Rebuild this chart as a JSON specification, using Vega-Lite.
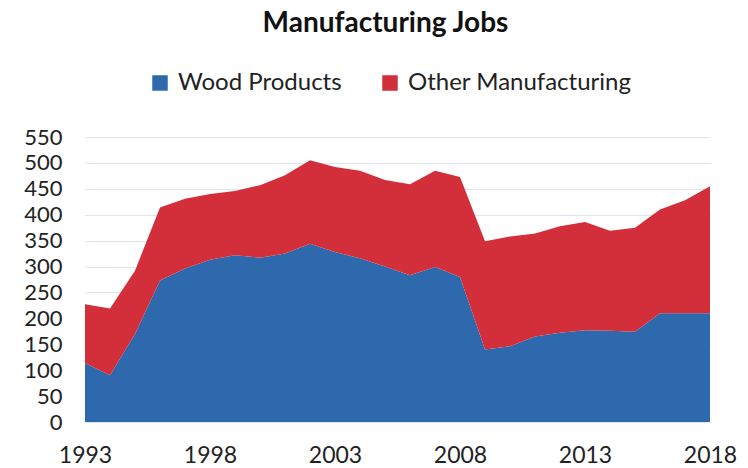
{
  "$schema": "https://vega.github.io/schema/vega-lite/v6.json",
  "autosize": {"type": "none"},
  "padding": {"left": 85, "top": 137, "right": 38, "bottom": 46},
  "width": 625,
  "height": 285,
  "background": "white",
  "title": {
    "text": "Manufacturing Jobs",
    "font": "Lato",
    "fontSize": 28,
    "fontWeight": "bold",
    "color": "#111111",
    "anchor": "middle",
    "offset": 33,
    "dx": -12
  },
  "config": {
    "view": {"stroke": null},
    "font": "Lato"
  },
  "data": {
    "values": [
      {"year": 1993, "series": "Wood Products", "jobs": 114},
      {"year": 1994, "series": "Wood Products", "jobs": 90},
      {"year": 1995, "series": "Wood Products", "jobs": 170},
      {"year": 1996, "series": "Wood Products", "jobs": 273},
      {"year": 1997, "series": "Wood Products", "jobs": 296},
      {"year": 1998, "series": "Wood Products", "jobs": 313},
      {"year": 1999, "series": "Wood Products", "jobs": 322},
      {"year": 2000, "series": "Wood Products", "jobs": 317},
      {"year": 2001, "series": "Wood Products", "jobs": 325},
      {"year": 2002, "series": "Wood Products", "jobs": 344},
      {"year": 2003, "series": "Wood Products", "jobs": 328},
      {"year": 2004, "series": "Wood Products", "jobs": 316},
      {"year": 2005, "series": "Wood Products", "jobs": 300},
      {"year": 2006, "series": "Wood Products", "jobs": 283},
      {"year": 2007, "series": "Wood Products", "jobs": 299},
      {"year": 2008, "series": "Wood Products", "jobs": 280},
      {"year": 2009, "series": "Wood Products", "jobs": 140},
      {"year": 2010, "series": "Wood Products", "jobs": 146},
      {"year": 2011, "series": "Wood Products", "jobs": 165},
      {"year": 2012, "series": "Wood Products", "jobs": 172},
      {"year": 2013, "series": "Wood Products", "jobs": 177},
      {"year": 2014, "series": "Wood Products", "jobs": 176},
      {"year": 2015, "series": "Wood Products", "jobs": 174},
      {"year": 2016, "series": "Wood Products", "jobs": 210},
      {"year": 2017, "series": "Wood Products", "jobs": 210},
      {"year": 2018, "series": "Wood Products", "jobs": 210},
      {"year": 1993, "series": "Other Manufacturing", "jobs": 113},
      {"year": 1994, "series": "Other Manufacturing", "jobs": 129},
      {"year": 1995, "series": "Other Manufacturing", "jobs": 122},
      {"year": 1996, "series": "Other Manufacturing", "jobs": 141},
      {"year": 1997, "series": "Other Manufacturing", "jobs": 135},
      {"year": 1998, "series": "Other Manufacturing", "jobs": 127},
      {"year": 1999, "series": "Other Manufacturing", "jobs": 124},
      {"year": 2000, "series": "Other Manufacturing", "jobs": 140},
      {"year": 2001, "series": "Other Manufacturing", "jobs": 151},
      {"year": 2002, "series": "Other Manufacturing", "jobs": 161},
      {"year": 2003, "series": "Other Manufacturing", "jobs": 164},
      {"year": 2004, "series": "Other Manufacturing", "jobs": 169},
      {"year": 2005, "series": "Other Manufacturing", "jobs": 167},
      {"year": 2006, "series": "Other Manufacturing", "jobs": 176},
      {"year": 2007, "series": "Other Manufacturing", "jobs": 186},
      {"year": 2008, "series": "Other Manufacturing", "jobs": 193},
      {"year": 2009, "series": "Other Manufacturing", "jobs": 209},
      {"year": 2010, "series": "Other Manufacturing", "jobs": 212},
      {"year": 2011, "series": "Other Manufacturing", "jobs": 199},
      {"year": 2012, "series": "Other Manufacturing", "jobs": 206},
      {"year": 2013, "series": "Other Manufacturing", "jobs": 209},
      {"year": 2014, "series": "Other Manufacturing", "jobs": 193},
      {"year": 2015, "series": "Other Manufacturing", "jobs": 201},
      {"year": 2016, "series": "Other Manufacturing", "jobs": 200},
      {"year": 2017, "series": "Other Manufacturing", "jobs": 218},
      {"year": 2018, "series": "Other Manufacturing", "jobs": 245}
    ]
  },
  "mark": {"type": "area", "interpolate": "linear"},
  "encoding": {
    "x": {
      "field": "year",
      "type": "quantitative",
      "scale": {"domain": [1993, 2018], "nice": false, "zero": false},
      "axis": {
        "values": [1993, 1998, 2003, 2008, 2013, 2018],
        "format": "d",
        "title": null,
        "grid": false,
        "domain": false,
        "ticks": false,
        "labelFontSize": 23,
        "labelColor": "#222222",
        "labelPadding": 22,
        "labelFlush": false
      }
    },
    "y": {
      "field": "jobs",
      "type": "quantitative",
      "stack": "zero",
      "scale": {"domain": [0, 550], "nice": false},
      "axis": {
        "values": [0, 50, 100, 150, 200, 250, 300, 350, 400, 450, 500, 550],
        "title": null,
        "domain": false,
        "ticks": false,
        "grid": true,
        "gridColor": "#dde4f0",
        "gridWidth": 1,
        "labelFontSize": 22,
        "labelColor": "#222222",
        "labelPadding": 23
      }
    },
    "color": {
      "field": "series",
      "type": "nominal",
      "scale": {
        "domain": ["Wood Products", "Other Manufacturing"],
        "range": ["#2f69ad", "#d22f3a"]
      },
      "legend": {
        "title": null,
        "orient": "none",
        "direction": "horizontal",
        "legendX": 63,
        "legendY": -66,
        "symbolType": "square",
        "symbolSize": 240,
        "symbolStrokeWidth": 0,
        "symbolOpacity": 1,
        "labelFontSize": 24,
        "labelLimit": 400,
        "labelColor": "#222222",
        "labelOffset": 6,
        "columnPadding": 36
      }
    },
    "order": {"field": "series", "sort": "descending"}
  }
}
